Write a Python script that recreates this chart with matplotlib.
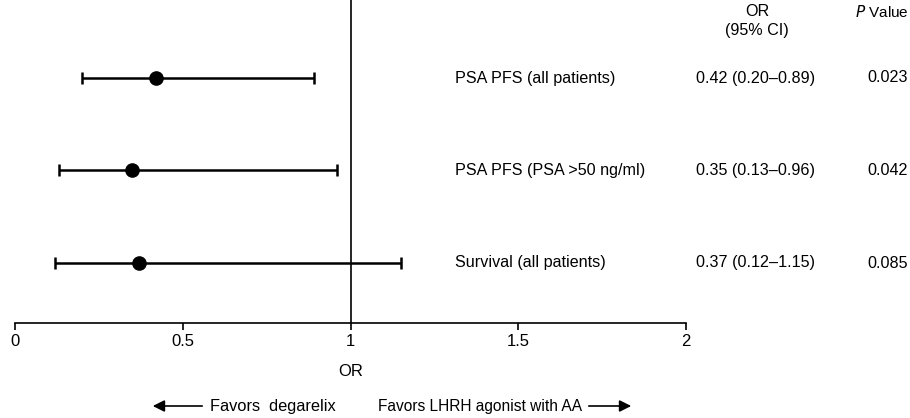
import matplotlib
matplotlib.use("Agg")
import matplotlib.pyplot as plt
from matplotlib import font_manager

names = {f.name for f in font_manager.fontManager.ttflist}
FONT = "Liberation Sans Narrow" if "Liberation Sans Narrow" in names else "Liberation Sans"
plt.rcParams["font.family"] = [FONT, "DejaVu Sans"]

outcomes = ["PSA PFS (all patients)", "PSA PFS (PSA >50 ng/ml)", "Survival (all patients)"]
odds_ratio = [0.42, 0.35, 0.37]
ci_low = [0.20, 0.13, 0.12]
ci_high = [0.89, 0.96, 1.15]
or_text = ["0.42 (0.20\u20130.89)", "0.35 (0.13\u20130.96)", "0.37 (0.12\u20131.15)"]
p_values = ["0.023", "0.042", "0.085"]
xticks = [0, 0.5, 1, 1.5, 2]
xtick_labels = ["0", "0.5", "1", "1.5", "2"]

W, H = 910, 418
fig = plt.figure(figsize=(W / 100, H / 100), dpi=100)
ax_left, ax_right = 15 / W, 686 / W
ax_bottom = (H - 323) / H
ax = fig.add_axes([ax_left, ax_bottom, ax_right - ax_left, 1 - ax_bottom])

rows = list(range(len(outcomes)))
ax.set_xlim(0, 2)
ax.set_ylim(2.649, -0.843)

err_lo = [o - l for o, l in zip(odds_ratio, ci_low)]
err_hi = [h - o for o, h in zip(odds_ratio, ci_high)]
ax.errorbar(odds_ratio, rows, xerr=[err_lo, err_hi], fmt="o", color="black",
            markersize=9.5, elinewidth=1.8, capsize=4.5, capthick=1.8, zorder=3)
ax.axvline(1, color="black", lw=1.2, zorder=2)

for s in ["top", "right", "left"]:
    ax.spines[s].set_visible(False)
ax.spines["bottom"].set_linewidth(1.2)
ax.set_yticks([])
ax.set_xticks(xticks)
ax.set_xticklabels(xtick_labels, fontsize=12)
ax.tick_params(axis="x", direction="out", length=5, width=1.2, pad=3)
ax.set_xlabel("OR", fontsize=12, labelpad=11)

def fy(py):
    return 1 - py / H

FS = 11.6
row_px = [78 + 92.5 * i for i in rows]
for i, y in enumerate(row_px):
    fig.text(455 / W, fy(y), outcomes[i], fontsize=FS, va="center", ha="left")
    fig.text(756 / W, fy(y), or_text[i], fontsize=FS, va="center", ha="center")
    fig.text(908 / W, fy(y), p_values[i], fontsize=FS, va="center", ha="right")

fig.text(757 / W, fy(12), "OR", fontsize=FS, va="center", ha="center")
fig.text(757 / W, fy(30), "(95% CI)", fontsize=FS, va="center", ha="center")
fig.text(909 / W, fy(12), "$\\it{P}$ Value", fontsize=11, va="center", ha="right")

fig.text(210 / W, fy(406), "Favors  degarelix", fontsize=11.8, va="center", ha="left")
fig.text(378 / W, fy(406), "Favors LHRH agonist with AA", fontsize=11.2, va="center", ha="left")
fig.patches.append(matplotlib.patches.FancyArrowPatch(
    (205 / W, fy(406)), (150 / W, fy(406)), transform=fig.transFigure,
    arrowstyle="-|>,head_length=7,head_width=3.5", color="black", lw=1.2, mutation_scale=1))
fig.patches.append(matplotlib.patches.FancyArrowPatch(
    (586 / W, fy(406)), (634 / W, fy(406)), transform=fig.transFigure,
    arrowstyle="-|>,head_length=7,head_width=3.5", color="black", lw=1.2, mutation_scale=1))

fig.savefig("out.png", dpi=100)
